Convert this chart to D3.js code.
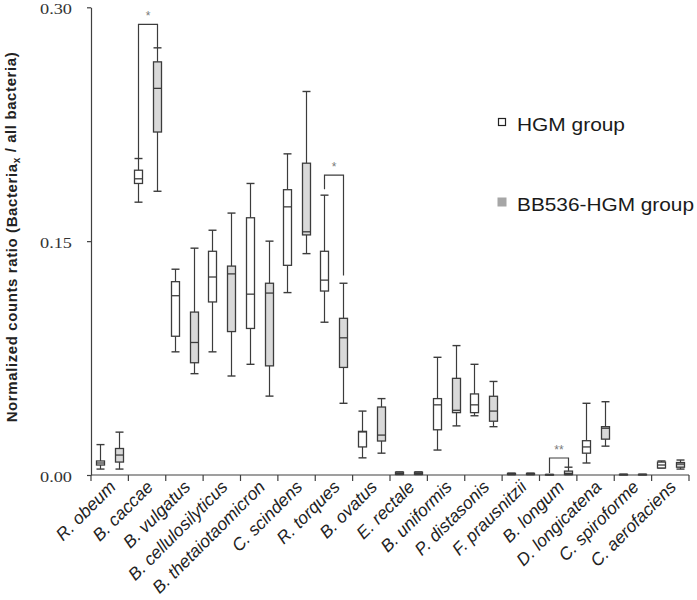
<!DOCTYPE html>
<html>
<head>
<meta charset="utf-8">
<script src="https://cdn.jsdelivr.net/npm/d3@7/dist/d3.min.js"></script>
<style>
  html, body { margin: 0; padding: 0; background: #fff; }
  svg { display: block; }
</style>
</head>
<body>
<svg id="chart" width="697" height="600"></svg>
<script>
// ---------- DATA ----------
const categories = ["R. obeum", "B. caccae", "B. vulgatus", "B. cellulosilyticus",
  "B. thetaiotaomicron", "C. scindens", "R. torques", "B. ovatus", "E. rectale",
  "B. uniformis", "P. distasonis", "F. prausnitzii", "B. longum", "D. longicatena",
  "C. spiroforme", "C. aerofaciens"];

const seriesNames = ["HGM group", "BB536-HGM group"];

// [min, q1, median, q3, max]
const hgmStats = [
  [0.0038, 0.0064, 0.0077, 0.0090, 0.0195],
  [0.175, 0.187, 0.190, 0.1955, 0.203],
  [0.079, 0.089, 0.115, 0.124, 0.132],
  [0.079, 0.111, 0.127, 0.1435, 0.157],
  [0.071, 0.094, 0.116, 0.165, 0.187],
  [0.117, 0.1345, 0.172, 0.183, 0.206],
  [0.098, 0.118, 0.125, 0.1435, 0.1795],
  [0.011, 0.018, 0.0276, 0.028, 0.041],
  [0.0003, 0.0004, 0.0010, 0.0018, 0.0020],
  [0.016, 0.029, 0.045, 0.049, 0.0755],
  [0.038, 0.040, 0.045, 0.052, 0.071],
  [0.0002, 0.0003, 0.0006, 0.0010, 0.0012],
  [0.0001, 0.0001, 0.0002, 0.0003, 0.0004],
  [0.0077, 0.014, 0.018, 0.022, 0.046],
  [0.0001, 0.0002, 0.0003, 0.0004, 0.0005],
  [0.0045, 0.0045, 0.0064, 0.0083, 0.0090]
];

const bb536Stats = [
  [0.0038, 0.0083, 0.0128, 0.017, 0.0275],
  [0.182, 0.220, 0.248, 0.265, 0.274],
  [0.065, 0.072, 0.085, 0.1045, 0.1455],
  [0.0635, 0.092, 0.129, 0.134, 0.168],
  [0.0506, 0.070, 0.1167, 0.123, 0.150],
  [0.142, 0.154, 0.156, 0.200, 0.246],
  [0.046, 0.069, 0.088, 0.1005, 0.123],
  [0.014, 0.0218, 0.0256, 0.0436, 0.049],
  [0.0003, 0.0004, 0.0010, 0.0018, 0.0020],
  [0.0315, 0.040, 0.0415, 0.062, 0.083],
  [0.031, 0.0345, 0.041, 0.0505, 0.060],
  [0.0002, 0.0003, 0.0006, 0.0010, 0.0012],
  [0.0002, 0.0003, 0.0010, 0.0025, 0.0050],
  [0.0185, 0.023, 0.030, 0.031, 0.047],
  [0.0001, 0.0002, 0.0003, 0.0004, 0.0005],
  [0.0038, 0.0050, 0.0070, 0.0080, 0.0096]
];

const yTicks = [0.00, 0.15, 0.30];

// significance brackets: category, bracket top, left leg end, right leg end, label
const brackets = [
  {cat: "B. caccae", top: 0.289, left: 0.203, right: 0.274, label: "*"},
  {cat: "R. torques", top: 0.1923, left: 0.1833, right: 0.128, label: "*"},
  {cat: "B. longum", top: 0.0109, left: 0.0013, right: 0.0051, label: "**"}
];

// ---------- LAYOUT ----------
const svg = d3.select("#chart");
const axisColor = "#404040";
const boxStroke = "#3c3c3c";
const fills = ["#ffffff", "#d9d9d9"];
const legendFills = ["#ffffff", "#a6a6a6"];

const x = d3.scaleBand().domain(categories).range([91, 689]).padding(0);
const y = d3.scaleLinear().domain([0, 0.30]).range([475, 7.3]);
const groupOffset = d3.scaleOrdinal().domain(seriesNames).range([-9.5, 9.5]);
const boxW = 8, capW = 8;

// Y axis
const yAxis = svg.append("g")
  .attr("transform", "translate(91,0)")
  .call(d3.axisLeft(y).tickValues(yTicks).tickFormat(d3.format(".2f")).tickSize(4).tickSizeOuter(0));
yAxis.select(".domain").attr("stroke", axisColor).attr("stroke-width", 1.2);
yAxis.selectAll(".tick line").attr("stroke", axisColor).attr("stroke-width", 1.2);
yAxis.selectAll(".tick text")
  .attr("x", -19).attr("dy", "0.42em")
  .attr("fill", "#333")
  .style("font-family", "'Liberation Serif', 'Times New Roman', serif")
  .style("font-size", "15.5px")
  .attr("textLength", 32).attr("lengthAdjust", "spacingAndGlyphs");

// X axis line and boundary ticks
const xAxisG = svg.append("g");
xAxisG.append("line")
  .attr("x1", x.range()[0]).attr("x2", x.range()[1])
  .attr("y1", y(0)).attr("y2", y(0))
  .attr("stroke", axisColor).attr("stroke-width", 1.2);
const boundaries = categories.map(c => x(c)).concat([x(categories[categories.length - 1]) + x.bandwidth()]);
xAxisG.selectAll("line.tk").data(boundaries).enter().append("line")
  .attr("class", "tk")
  .attr("x1", d => d).attr("x2", d => d)
  .attr("y1", y(0)).attr("y2", y(0) + 6)
  .attr("stroke", axisColor).attr("stroke-width", 1.2);

xAxisG.selectAll("text.cat").data(categories).enter().append("text")
  .attr("class", "cat")
  .attr("transform", d => `translate(${x(d) + x.bandwidth() / 2 + 7},${y(0) + 13}) rotate(-45)`)
  .attr("text-anchor", "end")
  .attr("fill", "#222")
  .style("font-family", "'Liberation Sans', Arial, sans-serif")
  .style("font-style", "italic")
  .style("font-size", "17.5px")
  .text(d => d);

// Y label
const yl = svg.append("text")
  .attr("transform", "translate(17,237) rotate(-90)")
  .attr("text-anchor", "middle")
  .attr("fill", "#222")
  .style("font-family", "'Liberation Sans', Arial, sans-serif")
  .style("font-weight", "bold")
  .style("font-size", "15px")
  .style("letter-spacing", "0.6px");
yl.append("tspan").text("Normalized counts ratio (Bacteria");
yl.append("tspan").attr("dy", "0.3em").style("font-size", "10px").text("x");
yl.append("tspan").attr("dy", "-0.3em").text(" / all bacteria)");

// Boxes
const groups = [
  {name: seriesNames[0], stats: hgmStats, i: 0},
  {name: seriesNames[1], stats: bb536Stats, i: 1}
];

groups.forEach(g => {
  const gg = svg.append("g").attr("class", "series");
  const items = categories.map((c, k) => ({c, s: g.stats[k]}));
  const cx = d => Math.round(x(d.c) + x.bandwidth() / 2 + groupOffset(g.name)) + 0.5;
  const sel = gg.selectAll("g.box").data(items).enter().append("g").attr("class", "box");
  // whiskers
  sel.append("line")
    .attr("x1", cx).attr("x2", cx)
    .attr("y1", d => y(d.s[0])).attr("y2", d => y(d.s[1]))
    .attr("stroke", boxStroke).attr("stroke-width", 1.2);
  sel.append("line")
    .attr("x1", cx).attr("x2", cx)
    .attr("y1", d => y(d.s[3])).attr("y2", d => y(d.s[4]))
    .attr("stroke", boxStroke).attr("stroke-width", 1.2);
  // caps
  [0, 4].forEach(j => {
    sel.append("line")
      .attr("x1", d => cx(d) - capW / 2).attr("x2", d => cx(d) + capW / 2)
      .attr("y1", d => y(d.s[j])).attr("y2", d => y(d.s[j]))
      .attr("stroke", boxStroke).attr("stroke-width", 1.4);
  });
  // box
  sel.append("rect")
    .attr("x", d => cx(d) - boxW / 2)
    .attr("width", boxW)
    .attr("y", d => y(d.s[3]))
    .attr("height", d => Math.max(0.5, y(d.s[1]) - y(d.s[3])))
    .attr("fill", fills[g.i])
    .attr("stroke", boxStroke).attr("stroke-width", 1.3);
  // median
  sel.append("line")
    .attr("x1", d => cx(d) - boxW / 2).attr("x2", d => cx(d) + boxW / 2)
    .attr("y1", d => y(d.s[2])).attr("y2", d => y(d.s[2]))
    .attr("stroke", boxStroke).attr("stroke-width", 1.3);
});

// Brackets
const bg = svg.append("g");
brackets.forEach(b => {
  const xl = Math.round(x(b.cat) + x.bandwidth() / 2 + groupOffset(seriesNames[0])) + 0.5;
  const xr = Math.round(x(b.cat) + x.bandwidth() / 2 + groupOffset(seriesNames[1])) + 0.5;
  bg.append("path")
    .attr("d", `M${xl},${y(b.left)}V${y(b.top)}H${xr}V${y(b.right)}`)
    .attr("fill", "none").attr("stroke", boxStroke).attr("stroke-width", 1.2);
  bg.append("text")
    .attr("x", (xl + xr) / 2).attr("y", y(b.top) - 4)
    .attr("text-anchor", "middle")
    .attr("fill", "#7a7a7a")
    .style("font-family", "'Liberation Sans', Arial, sans-serif")
    .style("font-size", "12px")
    .text(b.label);
});

// Legend
const legend = svg.append("g");
const legendY = [122, 202];
const legendLen = [108, 177];
seriesNames.forEach((n, i) => {
  const sz = i === 0 ? 7 : 9;
  legend.append("rect")
    .attr("x", 502 - sz / 2).attr("y", legendY[i] - sz / 2)
    .attr("width", sz).attr("height", sz)
    .attr("fill", legendFills[i])
    .attr("stroke", i === 0 ? "#222" : "none").attr("stroke-width", 1.2);
  legend.append("text")
    .attr("x", 517).attr("y", legendY[i] + 9)
    .attr("fill", "#1a1a1a")
    .style("font-family", "'Liberation Sans', Arial, sans-serif")
    .style("font-size", "18.5px")
    .attr("textLength", legendLen[i]).attr("lengthAdjust", "spacingAndGlyphs")
    .text(n);
});
</script>
</body>
</html>
